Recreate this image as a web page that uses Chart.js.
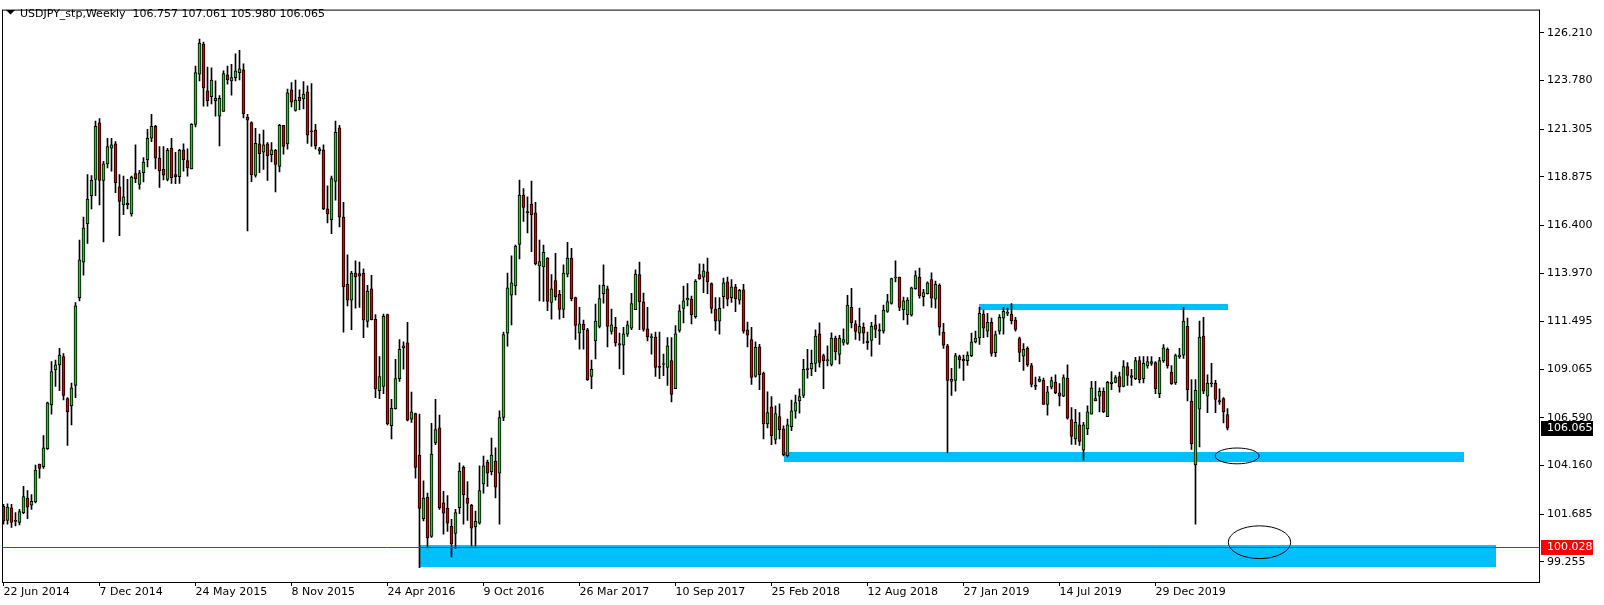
<!DOCTYPE html>
<html><head><meta charset="utf-8">
<style>html,body{margin:0;padding:0;background:#fff;overflow:hidden}#c{display:block}</style>
<script src="https://cdn.jsdelivr.net/npm/chart.js@4.4.1/dist/chart.umd.min.js"></script>
</head><body>
<canvas id="c" width="1604" height="605"></canvas>
<script>
// Weekly USDJPY bars, first bar = week of 22 Jun 2014
const opens = [102.09,101.37,102.01,101.37,101.26,101.76,102.51,102.14,102.31,104.24,104.10,105.02,107.25,109.04,109.29,109.71,107.57,107.20,108.25,112.72,114.53,116.48,117.91,118.74,121.62,118.69,119.53,120.33,120.55,118.36,117.44,117.54,116.99,119.04,118.49,119.08,119.75,120.84,121.45,119.83,119.25,118.74,120.33,118.99,118.88,120.25,119.70,119.28,121.54,124.10,125.64,123.26,122.96,122.76,121.96,122.21,124.07,123.76,123.93,124.18,124.32,121.92,121.64,118.94,120.55,120.13,120.55,120.00,120.22,119.41,121.50,120.55,123.31,122.26,122.93,122.84,123.21,121.20,121.25,120.20,120.25,117.24,116.69,118.64,121.37,116.82,113.39,112.59,113.97,113.94,113.97,111.51,113.17,111.61,107.98,108.20,111.85,106.19,107.06,108.59,110.16,110.41,106.53,106.81,104.69,101.46,102.56,100.55,105.31,106.08,102.26,101.98,101.06,100.70,102.01,104.07,102.51,102.13,101.04,101.22,103.23,104.32,103.85,104.39,103.77,106.61,110.91,112.84,113.31,115.43,117.94,117.10,117.49,117.04,114.34,114.28,114.73,112.47,113.59,112.89,112.12,113.92,114.73,112.72,110.91,111.36,111.08,108.70,110.51,111.25,112.92,113.17,111.00,111.21,110.38,110.29,110.85,111.16,112.10,113.89,112.50,111.13,110.68,110.71,109.22,109.31,109.16,109.51,108.08,111.05,112.17,112.60,112.64,111.75,113.89,113.76,114.03,113.44,112.13,111.52,112.77,113.52,112.72,113.27,112.59,113.12,111.08,110.58,108.70,110.21,108.87,106.28,107.15,105.49,106.66,106.03,104.65,106.14,106.93,107.45,107.73,109.06,109.09,109.37,110.88,109.76,109.51,109.32,110.66,109.83,110.44,110.38,112.22,111.38,110.91,111.21,110.51,110.54,111.33,111.08,111.01,112.02,112.42,113.72,113.77,112.10,111.85,111.83,113.17,113.77,112.77,112.92,113.64,112.64,113.35,110.96,110.26,108.45,108.50,109.71,109.57,109.51,109.76,110.46,110.66,111.88,111.01,111.46,109.91,111.01,111.67,111.92,111.88,111.58,110.63,109.74,110.13,109.26,108.25,108.45,108.50,107.28,108.15,108.42,107.87,107.70,108.62,106.51,105.52,106.24,104.94,106.03,106.78,107.45,107.70,107.95,106.65,108.34,108.40,108.70,108.20,109.21,108.75,108.59,109.51,108.59,109.24,109.37,109.41,107.83,109.49,110.08,108.92,108.37,109.71,109.79,111.26,107.45,104.19,107.03,110.76,107.70,108.34,108.37,107.47,107.57,106.757];
const highs = [102.18,102.21,102.18,101.76,101.93,103.10,102.88,102.68,104.19,104.24,105.69,107.40,109.46,109.54,110.13,109.87,107.62,108.37,112.47,115.65,116.82,118.99,118.94,121.72,121.84,119.66,120.84,120.84,120.67,118.99,118.91,118.74,118.91,120.50,119.21,119.86,121.30,122.06,121.50,120.42,120.42,120.33,120.84,120.12,120.28,120.55,120.30,121.59,124.52,125.89,125.74,124.47,124.43,123.76,123.01,124.27,124.52,124.60,125.14,125.32,124.63,122.06,121.67,121.34,121.05,121.25,120.62,120.62,120.28,121.55,121.50,123.35,123.68,123.81,123.31,123.73,123.51,123.63,121.55,120.38,120.50,118.41,118.91,121.72,121.50,117.57,114.90,114.06,114.59,114.53,114.19,113.34,113.86,111.85,109.71,111.88,111.88,107.53,109.57,110.58,110.46,111.46,107.90,106.83,106.78,103.38,102.76,106.31,107.53,106.73,102.85,102.63,101.42,101.93,104.30,104.15,103.35,102.18,101.84,104.15,104.65,104.44,105.56,105.06,106.95,110.96,113.97,114.85,115.40,118.71,118.28,117.86,118.66,117.57,115.65,115.40,114.76,113.89,114.98,113.09,114.39,115.53,115.23,112.75,112.22,111.58,111.15,109.54,112.39,113.36,114.39,113.31,112.13,111.72,110.91,111.21,111.52,112.94,114.14,114.53,112.95,112.22,110.88,110.96,110.96,109.84,110.68,110.68,111.30,112.35,113.31,113.44,112.80,113.64,114.44,114.43,114.73,113.47,112.72,112.72,113.72,113.77,113.64,113.39,113.14,113.39,111.47,111.21,110.46,110.34,108.92,107.92,107.67,107.20,107.31,106.19,106.53,107.50,107.75,108.07,109.57,110.08,110.04,111.08,111.43,109.84,110.26,110.93,110.76,110.80,111.13,112.84,113.19,111.55,112.18,111.43,110.96,111.46,111.83,111.38,112.34,112.89,113.72,114.59,113.77,112.75,112.72,113.26,114.09,114.23,113.14,113.52,113.98,113.56,113.42,111.41,110.34,109.12,109.88,109.79,109.79,109.96,110.91,111.01,112.22,112.08,111.92,111.68,111.01,111.85,112.22,112.18,112.42,111.71,110.71,110.38,110.21,109.37,108.67,108.70,108.62,108.20,108.67,108.79,108.34,108.79,109.29,107.11,107.03,106.86,106.36,107.20,108.45,108.45,108.12,108.12,108.45,108.95,108.74,108.92,109.51,109.41,109.07,109.67,109.71,109.71,109.71,109.71,109.46,109.67,110.33,110.16,109.26,109.84,110.13,112.22,111.67,108.54,108.54,111.52,111.72,108.79,109.37,108.50,108.07,107.62,107.061];
const lows = [101.17,101.17,101.01,101.09,101.14,101.71,101.46,101.93,102.26,103.52,104.02,104.99,106.78,108.20,107.98,107.50,105.19,106.23,107.62,112.55,113.86,115.48,117.24,117.91,117.44,115.56,119.33,119.16,118.07,115.87,116.94,117.24,116.87,118.58,118.24,118.61,119.38,120.67,119.28,118.33,118.71,118.66,118.54,118.53,118.54,119.16,118.91,119.28,121.42,123.76,122.48,122.48,122.59,121.96,120.45,122.21,123.60,123.04,123.76,123.81,121.87,116.12,118.63,118.86,119.08,119.25,118.69,119.63,118.11,119.13,120.03,120.28,122.43,122.22,122.29,122.34,120.58,120.42,120.28,120.03,117.20,116.53,115.98,117.69,116.32,110.96,112.30,111.08,112.18,112.22,110.68,111.21,111.58,107.62,107.57,107.83,106.23,105.52,107.03,108.45,109.07,106.44,106.36,103.52,98.96,101.34,99.97,100.50,105.22,101.93,100.67,100.81,99.50,99.92,101.71,101.17,101.37,100.05,100.05,101.17,102.76,103.10,103.68,102.51,101.17,106.45,110.24,111.33,112.85,114.69,116.60,116.02,115.06,114.39,112.55,112.52,112.05,111.62,112.59,111.62,111.70,113.77,112.55,110.59,110.09,110.09,108.50,108.08,109.59,111.18,112.44,110.21,110.85,110.24,109.09,108.79,110.74,111.08,112.10,111.08,111.01,110.51,109.84,108.70,108.59,108.74,108.25,107.40,108.08,110.96,111.43,112.30,111.38,111.67,113.64,112.97,112.92,111.93,111.05,110.85,112.18,112.30,112.47,112.00,112.39,110.91,110.21,108.29,108.67,108.03,105.52,106.08,105.22,105.27,105.52,104.65,104.60,105.94,106.58,106.83,107.62,108.62,108.74,108.95,109.17,108.08,109.24,109.24,109.54,109.34,110.29,110.33,111.18,110.59,110.54,110.38,110.08,109.74,110.68,110.34,110.91,111.97,112.39,113.52,112.05,111.58,111.35,111.77,113.14,112.69,112.30,112.89,112.22,112.18,110.80,110.13,104.80,107.73,107.95,109.12,108.50,109.26,109.71,110.41,110.34,110.68,110.71,109.74,109.71,110.85,110.85,111.80,111.38,111.01,109.46,109.01,109.21,108.17,108.03,108.42,107.28,106.73,108.07,107.82,107.20,107.67,106.53,105.24,105.24,105.19,104.44,105.73,106.78,107.45,106.90,106.86,106.65,108.03,108.37,107.90,108.17,108.24,108.24,108.54,108.37,108.37,109.12,109.26,107.82,107.62,109.42,109.12,108.29,108.29,109.62,109.62,107.45,104.99,101.17,105.11,107.82,106.86,108.17,106.86,107.28,106.33,105.980];
const closes = [101.34,102.04,101.26,101.31,101.81,102.58,102.04,102.34,103.93,104.02,105.07,107.36,108.95,109.29,109.79,107.73,106.90,108.12,112.30,114.64,116.28,117.74,118.69,121.45,118.69,119.53,120.42,120.50,118.58,117.62,117.86,117.44,118.86,118.78,119.08,119.63,120.84,121.45,119.83,119.19,118.96,120.22,118.83,118.88,120.22,119.75,119.33,121.55,124.18,125.69,123.40,122.76,123.81,122.88,122.88,124.13,123.81,123.93,124.27,124.38,122.09,121.76,118.99,120.58,120.05,120.50,119.95,120.25,119.50,121.50,120.42,123.16,122.68,122.79,122.76,123.09,121.00,121.17,120.45,120.30,117.24,116.99,118.79,121.14,116.82,113.27,112.59,113.97,113.77,113.81,111.58,113.05,111.60,108.07,108.70,111.77,106.28,107.08,108.59,110.09,110.26,106.48,106.90,104.07,101.98,102.51,100.47,104.74,105.99,102.01,101.73,101.22,100.17,101.76,103.88,102.68,102.23,100.97,101.32,102.88,104.15,103.77,104.69,103.06,106.61,110.83,113.22,113.47,115.35,117.94,117.32,117.04,116.94,114.43,114.56,115.03,112.52,113.17,112.75,112.12,113.97,114.73,112.67,111.30,111.38,111.08,108.54,109.07,111.52,112.67,113.34,111.25,111.33,110.41,110.29,110.88,111.33,112.42,113.92,112.50,111.10,110.71,110.68,109.16,109.16,109.32,110.26,107.78,110.88,112.05,112.55,112.69,111.85,113.56,113.69,114.09,113.52,112.17,111.52,112.17,113.47,112.64,113.27,112.67,113.09,111.01,110.80,108.65,110.18,108.79,106.28,106.86,105.69,106.81,105.99,104.72,106.24,106.95,107.37,107.67,109.07,109.05,109.37,110.76,109.42,109.51,109.52,110.66,109.96,110.66,110.58,112.34,111.43,111.00,111.26,110.91,110.41,111.25,111.10,111.01,112.08,112.52,113.69,113.72,112.22,112.55,112.59,113.22,113.84,112.80,112.97,113.47,112.69,113.39,111.21,110.29,108.50,108.57,109.76,109.54,109.49,109.79,110.46,110.66,111.92,111.16,111.46,109.88,110.83,111.72,112.02,111.97,111.55,111.10,109.93,110.08,109.29,108.29,108.20,108.57,107.28,107.92,108.49,107.87,107.70,108.65,106.58,105.64,106.36,105.39,106.24,106.90,108.12,107.57,107.95,106.91,108.40,108.42,108.65,108.17,109.21,108.75,108.65,109.51,108.54,109.37,109.46,109.46,108.08,109.51,110.16,109.24,108.34,109.76,109.79,111.52,108.03,105.27,108.00,110.71,107.95,108.37,108.33,107.53,107.40,106.90,106.065];

const dateTickIndex = [0,24,48,72,96,120,144,168,192,216,240,264,288];
const dateTickLabels = ['22 Jun 2014','7 Dec 2014','24 May 2015','8 Nov 2015','24 Apr 2016','9 Oct 2016','26 Mar 2017','10 Sep 2017','25 Feb 2018','12 Aug 2018','27 Jan 2019','14 Jul 2019','29 Dec 2019'];
const priceTicks = [126.210,123.780,121.305,118.875,116.400,113.970,111.495,109.065,106.590,104.160,101.685,99.255];

// drawn objects (bar index / price)
const zoneFrom = [244, 195, 104];
const zoneTo = [306, 365, 373];
const zoneTop = [112.39, 104.855, 100.135];
const zoneBottom = [112.10, 104.35, 99.00];
const ellipseFrom = [302.9, 306.2];
const ellipseTo = [313.9, 321.8];
const ellipseTop = [105.055, 101.09];
const ellipseBottom = [104.25, 99.42];
const hLinePrice = 100.028;
const lastPrice = 106.065;
const headerText = 'USDJPY_stp,Weekly  106.757 107.061 105.980 106.065';

const Y_MIN = 98.228, Y_MAX = 127.395;
const X_MIN = -0.375, X_MAX = 384.125;

const FONT = {family: "'DejaVu Sans', Verdana, sans-serif", size: 11};
const BULL = '#22c822', BEAR = '#e00000', ZONE = '#00bfff';

const idx = opens.map((_, i) => i);

const overlay = {
  id: 'overlay',
  beforeDatasetsDraw(chart) {
    const {ctx, chartArea: a, scales: {x, y}} = chart;
    ctx.save();
    ctx.beginPath(); ctx.rect(a.left, a.top, a.right - a.left, a.bottom - a.top); ctx.clip();
    ctx.fillStyle = ZONE;
    for (let k = 0; k < zoneFrom.length; k++) {
      const x1 = Math.round(x.getPixelForValue(zoneFrom[k]));
      const x2 = Math.round(x.getPixelForValue(zoneTo[k]));
      const y1 = Math.round(y.getPixelForValue(zoneTop[k]));
      const y2 = Math.round(y.getPixelForValue(zoneBottom[k]));
      ctx.fillRect(x1, y1, x2 - x1, y2 - y1);
    }
    ctx.restore();
  },
  afterDatasetsDraw(chart) {
    const {ctx, chartArea: a, scales: {x, y}} = chart;
    ctx.save();
    ctx.beginPath(); ctx.rect(a.left, a.top, a.right - a.left, a.bottom - a.top); ctx.clip();
    const ly = Math.round(y.getPixelForValue(hLinePrice)) + 0.5;
    ctx.strokeStyle = '#ff0000'; ctx.lineWidth = 1;
    ctx.beginPath(); ctx.moveTo(a.left, ly); ctx.lineTo(a.right, ly); ctx.stroke();
    ctx.strokeStyle = '#000';
    for (let k = 0; k < ellipseFrom.length; k++) {
      const x1 = x.getPixelForValue(ellipseFrom[k]), x2 = x.getPixelForValue(ellipseTo[k]);
      const y1 = y.getPixelForValue(ellipseTop[k]), y2 = y.getPixelForValue(ellipseBottom[k]);
      ctx.beginPath();
      ctx.ellipse((x1 + x2) / 2, (y1 + y2) / 2, (x2 - x1) / 2, (y2 - y1) / 2, 0, 0, Math.PI * 2);
      ctx.stroke();
    }
    ctx.restore();
  },
  afterDraw(chart) {
    const {ctx, chartArea: a, scales: {y}} = chart;
    ctx.save();
    // frame
    ctx.strokeStyle = '#000'; ctx.lineWidth = 1;
    ctx.strokeRect(a.left + 0.5, a.top + 0.5, a.right - a.left - 1, a.bottom - a.top);
    // price labels on the axis
    ctx.font = "11px 'DejaVu Sans', Verdana, sans-serif";
    ctx.textBaseline = 'middle'; ctx.textAlign = 'left';
    const boxes = [[lastPrice, '#000000'], [hLinePrice, '#ff0000']];
    for (const [p, col] of boxes) {
      const py = Math.round(y.getPixelForValue(p));
      ctx.fillStyle = col;
      ctx.fillRect(a.right + 1, py - 7, 52, 15);
      ctx.fillStyle = '#fff';
      ctx.fillText(p.toFixed(3), a.right + 7, py + 0.5);
    }
    // header
    ctx.fillStyle = '#000';
    ctx.beginPath(); ctx.moveTo(6, 10); ctx.lineTo(15, 10); ctx.lineTo(10.5, 14.5); ctx.closePath(); ctx.fill();
    ctx.textBaseline = 'alphabetic';
    ctx.fillText(headerText, 20, 17);
    ctx.restore();
  }
};

new Chart(document.getElementById('c'), {
  type: 'bar',
  data: {
    datasets: [
      {
        label: 'wick',
        data: idx.map(i => ({x: i, y: [lows[i], highs[i]]})),
        backgroundColor: '#000', borderWidth: 0, barThickness: 1, grouped: false, order: 2
      },
      {
        label: 'body',
        data: idx.map(i => ({x: i, y: [opens[i], closes[i]]})),
        backgroundColor: idx.map(i => closes[i] >= opens[i] ? BULL : BEAR),
        borderColor: '#000', borderWidth: 1, borderSkipped: false,
        barThickness: 3, minBarLength: 1, grouped: false, order: 1
      }
    ]
  },
  options: {
    responsive: false, animation: false, devicePixelRatio: 1,
    layout: {padding: {left: 2, top: 1, right: 0, bottom: 0}},
    plugins: {legend: {display: false}, tooltip: {enabled: false}},
    scales: {
      x: {
        type: 'linear', min: X_MIN, max: X_MAX, offset: false,
        grid: {display: true, offset: false, drawOnChartArea: false, drawTicks: true, tickLength: 4, color: '#000'},
        border: {display: false},
        ticks: {autoSkip: false, maxRotation: 0, minRotation: 0, align: 'start', padding: 0, color: '#000', font: FONT,
          callback: (v) => { const k = dateTickIndex.indexOf(v); return k >= 0 ? dateTickLabels[k] : ''; }},
        afterBuildTicks: s => { s.ticks = dateTickIndex.map(v => ({value: v})); },
        afterFit: s => { s.height = 23; }
      },
      y: {
        type: 'linear', position: 'right', min: Y_MIN, max: Y_MAX,
        grid: {display: true, drawOnChartArea: false, drawTicks: true, tickLength: 4, color: '#000'},
        border: {display: false},
        ticks: {autoSkip: false, padding: 3, color: '#000', font: FONT, callback: v => Number(v).toFixed(3)},
        afterBuildTicks: s => { s.ticks = priceTicks.map(v => ({value: v})); },
        afterFit: s => { s.width = 64; }
      }
    }
  },
  plugins: [overlay]
});
</script>
</body></html>
